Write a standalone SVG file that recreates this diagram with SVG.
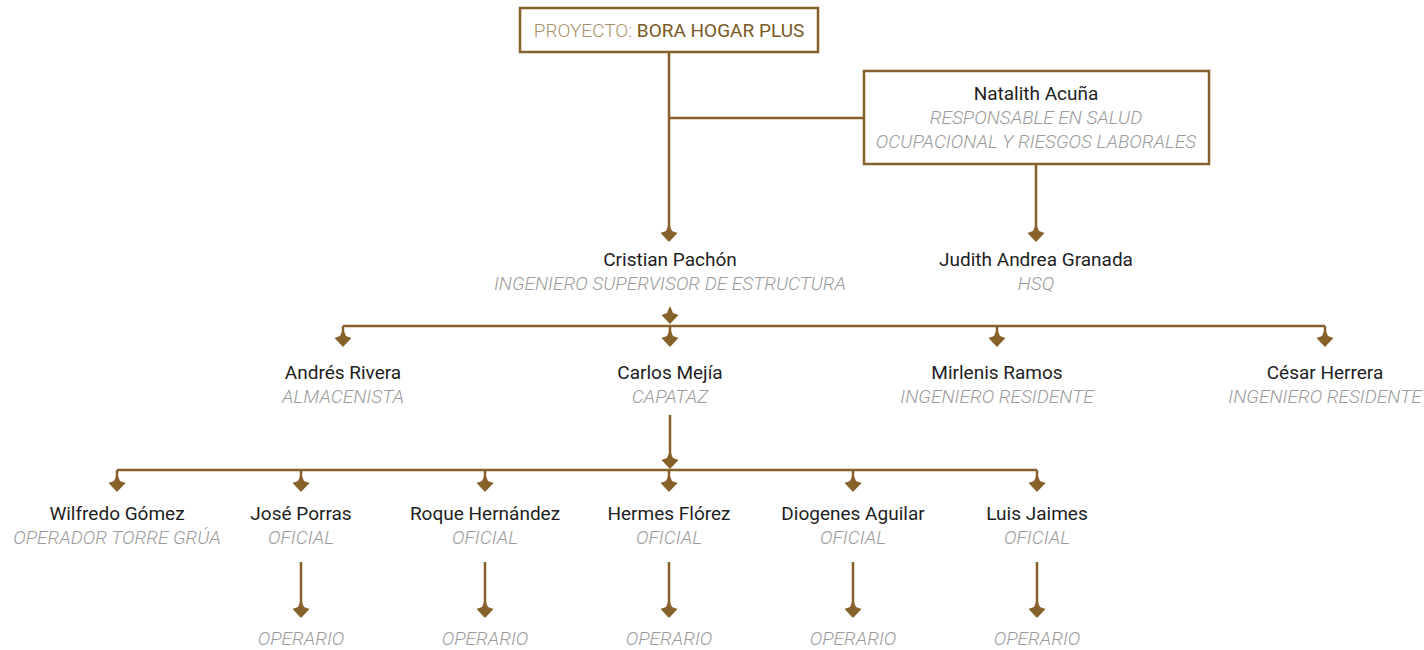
<svg xmlns="http://www.w3.org/2000/svg" xmlns:xlink="http://www.w3.org/1999/xlink" width="1424" height="650" viewBox="0 0 1424 650">
<style>
.box{fill:#fff;stroke:#86622a;stroke-width:2.5}
.ln{fill:none;stroke:#86622a;stroke-width:2.5}
.ah{fill:#86622a}
.nm{font-family:Roboto,"Liberation Sans",sans-serif;font-size:19px;fill:#1e1e1e;text-anchor:middle}
.rl{font-family:Roboto,"Liberation Sans",sans-serif;font-size:19px;font-style:italic;font-weight:300;fill:#9b9b9b;text-anchor:middle}
</style>
<defs>
<path id="arr" d="M0,0 L-8.5,-9 L-3,-11 L0,-18 L3,-11 L8.5,-9 Z"/>
</defs>
<rect width="1424" height="650" fill="#fff"/>
<g id="connectors">
<path class="ln" d="M669,52 V232 M669,118 H864 M1036,164 V232"/>
<path class="ln" d="M343,326 H1325 M343,326 V340 M670,326 V340 M997,326 V340 M1325,326 V340"/>
<path class="ln" d="M670,415 V462 M117,470 H1037 M117,470 V485 M301,470 V485 M485,470 V485 M669,470 V485 M853,470 V485 M1037,470 V485"/>
<path class="ln" d="M301,562 V608 M485,562 V608 M669,562 V608 M853,562 V608 M1037,562 V608"/>
<g class="ah">
<use xlink:href="#arr" x="669" y="242"/>
<use xlink:href="#arr" x="1036" y="242"/>
<use xlink:href="#arr" x="670" y="324"/>
<use xlink:href="#arr" x="343" y="347"/>
<use xlink:href="#arr" x="670" y="347"/>
<use xlink:href="#arr" x="997" y="347"/>
<use xlink:href="#arr" x="1325" y="347"/>
<use xlink:href="#arr" x="670" y="469"/>
<use xlink:href="#arr" x="117" y="492"/>
<use xlink:href="#arr" x="301" y="492"/>
<use xlink:href="#arr" x="485" y="492"/>
<use xlink:href="#arr" x="669" y="492"/>
<use xlink:href="#arr" x="853" y="492"/>
<use xlink:href="#arr" x="1037" y="492"/>
<use xlink:href="#arr" x="301" y="618"/>
<use xlink:href="#arr" x="485" y="618"/>
<use xlink:href="#arr" x="669" y="618"/>
<use xlink:href="#arr" x="853" y="618"/>
<use xlink:href="#arr" x="1037" y="618"/>
</g>
</g>
<g id="proyecto">
<rect class="box" x="520" y="8" width="298" height="44"/>
<text x="669" y="37" font-family="Roboto,'Liberation Sans',sans-serif" font-size="19" text-anchor="middle"><tspan fill="#a8916a" font-weight="300">PROYECTO: </tspan><tspan fill="#7a5a24">BORA HOGAR PLUS</tspan></text>
</g>
<g id="natalith">
<rect class="box" x="864" y="71" width="345" height="93"/>
<text class="nm" x="1036" y="100">Natalith Acuña</text>
<text class="rl" x="1036" y="124">RESPONSABLE EN SALUD</text>
<text class="rl" x="1036" y="148">OCUPACIONAL Y RIESGOS LABORALES</text>
</g>
<g id="cristian">
<text class="nm" x="670" y="266">Cristian Pachón</text>
<text class="rl" x="670" y="290">INGENIERO SUPERVISOR DE ESTRUCTURA</text>
</g>
<g id="judith">
<text class="nm" x="1036" y="266">Judith Andrea Granada</text>
<text class="rl" x="1036" y="290">HSQ</text>
</g>
<g id="andres">
<text class="nm" x="343" y="379">Andrés Rivera</text>
<text class="rl" x="343" y="403">ALMACENISTA</text>
</g>
<g id="carlos">
<text class="nm" x="670" y="379">Carlos Mejía</text>
<text class="rl" x="670" y="403">CAPATAZ</text>
</g>
<g id="mirlenis">
<text class="nm" x="997" y="379">Mirlenis Ramos</text>
<text class="rl" x="997" y="403">INGENIERO RESIDENTE</text>
</g>
<g id="cesar">
<text class="nm" x="1325" y="379">César Herrera</text>
<text class="rl" x="1325" y="403">INGENIERO RESIDENTE</text>
</g>
<g id="wilfredo">
<text class="nm" x="117" y="520">Wilfredo Gómez</text>
<text class="rl" x="117" y="544">OPERADOR TORRE GRÚA</text>
</g>
<g id="jose">
<text class="nm" x="301" y="520">José Porras</text>
<text class="rl" x="301" y="544">OFICIAL</text>
</g>
<g id="roque">
<text class="nm" x="485" y="520">Roque Hernández</text>
<text class="rl" x="485" y="544">OFICIAL</text>
</g>
<g id="hermes">
<text class="nm" x="669" y="520">Hermes Flórez</text>
<text class="rl" x="669" y="544">OFICIAL</text>
</g>
<g id="diogenes">
<text class="nm" x="853" y="520">Diogenes Aguilar</text>
<text class="rl" x="853" y="544">OFICIAL</text>
</g>
<g id="luis">
<text class="nm" x="1037" y="520">Luis Jaimes</text>
<text class="rl" x="1037" y="544">OFICIAL</text>
</g>
<g id="operarios">
<text class="rl" x="301" y="645">OPERARIO</text>
<text class="rl" x="485" y="645">OPERARIO</text>
<text class="rl" x="669" y="645">OPERARIO</text>
<text class="rl" x="853" y="645">OPERARIO</text>
<text class="rl" x="1037" y="645">OPERARIO</text>
</g>
</svg>
